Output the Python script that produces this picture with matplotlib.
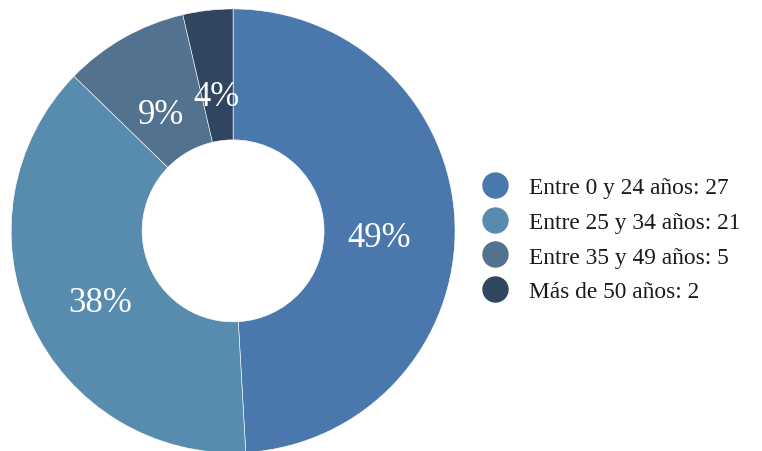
import matplotlib
matplotlib.use("Agg")
import matplotlib.pyplot as plt
from matplotlib.lines import Line2D

labels = ["Entre 0 y 24 años", "Entre 25 y 34 años", "Entre 35 y 49 años", "Más de 50 años"]
values = [27, 21, 5, 2]
colors = ["#4a78ad", "#588cae", "#52728f", "#2f4560"]

plt.rcParams["font.family"] = ["Liberation Serif", "DejaVu Serif"]

fig = plt.figure(figsize=(7.62, 4.52), dpi=100)
ax = fig.add_axes([0.0144, -0.004, 0.583, 0.982])

total = sum(values)
wedges, texts = ax.pie(values, colors=colors, startangle=90, counterclock=False,
                       radius=1.0, wedgeprops=dict(width=0.59, edgecolor="white", linewidth=0.4),
                       labels=[f"{round(v / total * 100)}%" for v in values],
                       labeldistance=0.66)
for t in texts:
    t.set_color("white")
    t.set_fontsize(25)
    t.set_ha("center")
    t.set_va("center")
    x, y = t.get_position()
    t.set_position((x, y - 0.05))  # labels sit a bit below the wedge midpoint
ax.set_xlim(-1, 1)
ax.set_ylim(-1, 1)
ax.set_aspect("equal")

handles = [Line2D([0], [0], marker="o", linestyle="", markersize=18,
                  markerfacecolor=c, markeredgecolor=c) for c in colors]
leg = fig.legend(handles, [f"{l}: {v}" for l, v in zip(labels, values)],
                 loc="center left", bbox_to_anchor=(0.603, 0.468), frameon=False,
                 fontsize=16.8, handletextpad=0.85, labelspacing=0.58, handlelength=1.25)
for t in leg.get_texts():
    t.set_color("#1a1a1a")

fig.savefig("out.png", dpi=100)
